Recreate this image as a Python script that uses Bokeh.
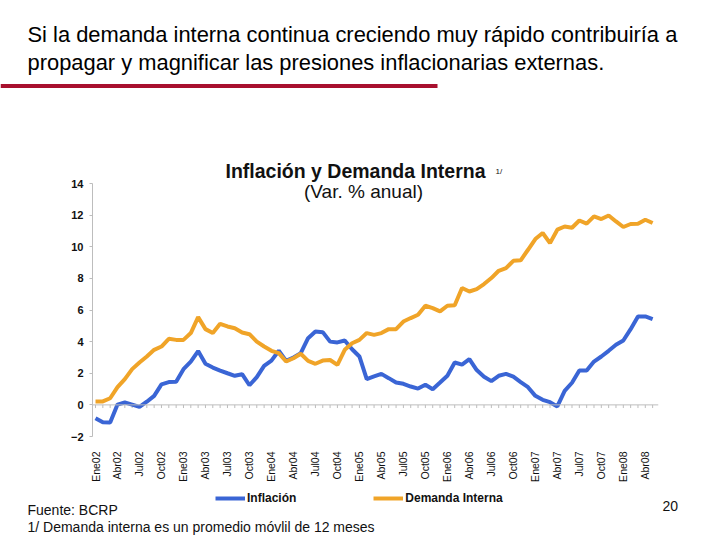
from bokeh.plotting import figure
from bokeh.layouts import column
from bokeh.models import Range1d, FixedTicker, Label, Span, Legend, LegendItem
from bokeh.embed import file_html
from bokeh.resources import INLINE

# ---------------- data ----------------
inflacion = [-0.84, -1.10, -1.12, 0.02, 0.15, 0.02, -0.13, 0.20, 0.57, 1.30, 1.44, 1.46,
             2.26, 2.74, 3.40, 2.60, 2.36, 2.17, 2.00, 1.84, 1.94, 1.24, 1.75, 2.47,
             2.80, 3.42, 2.78, 3.00, 3.27, 4.22, 4.64, 4.60, 4.00, 3.95, 4.07, 3.52,
             3.06, 1.63, 1.80, 1.96, 1.69, 1.41, 1.33, 1.16, 1.03, 1.27, 0.99, 1.41,
             1.84, 2.68, 2.55, 2.89, 2.20, 1.78, 1.50, 1.84, 1.96, 1.78, 1.44, 1.12,
             0.57, 0.32, 0.17, -0.10, 0.89, 1.40, 2.17, 2.17, 2.74, 3.06, 3.42, 3.80,
             4.07, 4.79, 5.59, 5.59, 5.42]
demanda = [0.22, 0.22, 0.42, 1.12, 1.63, 2.26, 2.68, 3.06, 3.48, 3.69, 4.18, 4.11,
           4.11, 4.54, 5.55, 4.79, 4.54, 5.13, 4.96, 4.85, 4.58, 4.47, 4.00, 3.69,
           3.42, 3.27, 2.74, 2.95, 3.23, 2.78, 2.60, 2.80, 2.84, 2.53, 3.48, 3.90,
           4.11, 4.54, 4.43, 4.54, 4.79, 4.79, 5.27, 5.49, 5.70, 6.27, 6.12, 5.91,
           6.27, 6.30, 7.39, 7.17, 7.32, 7.64, 8.02, 8.48, 8.65, 9.11, 9.14, 9.81,
           10.49, 10.87, 10.23, 11.08, 11.28, 11.20, 11.66, 11.46, 11.92, 11.75, 11.98, 11.60,
           11.25, 11.44, 11.46, 11.71, 11.50]
meses = ["Ene", "Feb", "Mar", "Abr", "May", "Jun", "Jul", "Ago", "Sep", "Oct", "Nov", "Dic"]
anios = ["02", "03", "04", "05", "06", "07", "08"]
etiquetas = [m + a for a in anios for m in meses][:len(inflacion)]
y_ticks = [-2, 0, 2, 4, 6, 8, 10, 12, 14]

titulo = ["Si la demanda interna continua creciendo muy rápido contribuiría a",
          "propagar y magnificar las presiones inflacionarias externas."]
chart_title = "Inflación y Demanda Interna"
chart_nota = "1/"
chart_sub = "(Var. % anual)"
serie_nombres = ["Inflación", "Demanda Interna"]
fuente = "Fuente: BCRP"
nota = "1/ Demanda interna es un promedio móvlil de 12 meses"
pagina = "20"

x = list(range(len(inflacion)))

FONT = "Liberation Sans"
BLUE = "#3A65D5"
ORANGE = "#F0A428"
GRAY = "#BDBDBD"
INK = "#111111"
W = 720

# ---------------- header figure (page y 0..150) ----------------
HH = 150
h = figure(width=W, height=HH, x_range=Range1d(0, W), y_range=Range1d(HH, 0),
           output_backend="svg", toolbar_location=None, min_border=0,
           x_axis_location=None, y_axis_location=None, title=None)
h.frame_align = False
h.grid.visible = False
h.outline_line_color = None
h.add_layout(Label(x=27, y=34, text=titulo[0], text_font=FONT, text_font_size="21.9px",
                   text_color="#000000", text_baseline="middle", text_align="left"))
h.add_layout(Label(x=27, y=62, text=titulo[1], text_font=FONT, text_font_size="21.9px",
                   text_color="#000000", text_baseline="middle", text_align="left"))
h.line(x=[0, 437], y=[85.5, 85.5], line_width=4, line_color="#A8102E")

# ---------------- chart figure (page y 150..484) ----------------
CT, CB = HH, 484
FL, FR, FT, FB = 92, 658, CT, 436   # page px of the frame
Y14_PX = 183                         # page px where the top tick (14) sits
X0, X1 = -0.41, 76.8
Y0 = y_ticks[0]
Y1 = y_ticks[-1] + (Y14_PX - FT) * (y_ticks[-1] - y_ticks[0]) / (FB - Y14_PX)

p = figure(width=W, height=CB - CT, x_range=Range1d(X0, X1), y_range=Range1d(Y0, Y1),
           output_backend="svg", toolbar_location=None, title=None,
           min_border_left=FL, min_border_right=W - FR,
           min_border_top=0, min_border_bottom=CB - FB)
p.frame_align = False
p.outline_line_color = None
p.grid.visible = False


def dx(px):
    return X0 + (px - FL) / (FR - FL) * (X1 - X0)


def dy(py):
    return Y1 - (py - FT) / (FB - FT) * (Y1 - Y0)


# y axis
p.yaxis.ticker = FixedTicker(ticks=y_ticks)
p.yaxis.bounds = (y_ticks[0], y_ticks[-1])
p.yaxis.axis_line_color = GRAY
p.yaxis.major_tick_line_color = GRAY
p.yaxis.major_tick_out = 3
p.yaxis.major_tick_in = 0
p.yaxis.minor_tick_line_color = None
p.yaxis.major_label_text_font = FONT
p.yaxis.major_label_text_font_size = "11px"
p.yaxis.major_label_text_font_style = "bold"
p.yaxis.major_label_text_color = INK
p.yaxis.major_label_standoff = 6

# x axis (labels only; the axis line is drawn at zero)
p.xaxis.ticker = FixedTicker(ticks=x[::3])
p.xaxis.major_label_overrides = {i: etiquetas[i] for i in x[::3]}
p.xaxis.major_label_orientation = 3.14159265 / 2
p.xaxis.axis_line_color = None
p.xaxis.major_tick_line_color = None
p.xaxis.minor_tick_line_color = None
p.xaxis.major_label_text_font = FONT
p.xaxis.major_label_text_font_size = "10.5px"
p.xaxis.major_label_text_color = INK
p.xaxis.major_label_standoff = 9

# zero line with monthly ticks
p.add_layout(Span(location=0, dimension="width", line_color=GRAY, line_width=1))
tick_x = x + [len(x)]
p.segment(x0=tick_x, y0=[0] * len(tick_x), x1=tick_x, y1=[-0.2] * len(tick_x),
          line_color=GRAY, line_width=1)

p.line(x, inflacion, line_color=BLUE, line_width=4)
p.line(x, demanda, line_color=ORANGE, line_width=4)

# chart titles (inside the frame, above the top tick)
p.add_layout(Label(x=dx(355), y=dy(170), text=chart_title, text_font=FONT,
                   text_font_size="19.5px", text_font_style="bold", text_align="center",
                   text_baseline="middle", text_color=INK))
p.add_layout(Label(x=dx(495), y=dy(171), text=chart_nota, text_font=FONT,
                   text_font_size="8px", text_align="left",
                   text_baseline="middle", text_color=INK))
p.add_layout(Label(x=dx(363), y=dy(191), text=chart_sub, text_font=FONT,
                   text_font_size="19px", text_align="center",
                   text_baseline="middle", text_color=INK))

# ---------------- footer figure (page y 484..540) ----------------
FT2 = CB
FH = 540 - FT2
f = figure(width=W, height=FH, x_range=Range1d(0, W), y_range=Range1d(540, FT2),
           output_backend="svg", toolbar_location=None, min_border=0,
           x_axis_location=None, y_axis_location=None, title=None)
f.frame_align = False
f.grid.visible = False
f.outline_line_color = None
# legend keys (drawn off-frame, only their legend glyphs show)
l1 = f.line(x=[-20, -10], y=[600, 600], line_color=BLUE, line_width=4)
l2 = f.line(x=[-20, -10], y=[600, 600], line_color=ORANGE, line_width=4)
legend = Legend(items=[LegendItem(label=serie_nombres[0], renderers=[l1]),
                       LegendItem(label=serie_nombres[1], renderers=[l2])],
                orientation="horizontal", location=(215, 35),
                border_line_color=None, background_fill_alpha=0,
                padding=0, margin=0, spacing=77, glyph_width=30, glyph_height=12,
                label_height=12, label_standoff=2,
                label_text_font=FONT, label_text_font_size="12px",
                label_text_font_style="bold", label_text_color=INK)
f.add_layout(legend)
f.add_layout(Label(x=27, y=509, text=fuente, text_font=FONT,
                   text_font_size="14px", text_align="left",
                   text_baseline="middle", text_color=INK))
f.add_layout(Label(x=27, y=526, text=nota, text_font=FONT,
                   text_font_size="14px", text_align="left",
                   text_baseline="middle", text_color=INK))
f.add_layout(Label(x=662, y=505, text=pagina, text_font=FONT,
                   text_font_size="14px", text_align="left",
                   text_baseline="middle", text_color=INK))

layout = column(h, p, f, spacing=0)
open("out.html", "w").write(file_html(layout, INLINE))
